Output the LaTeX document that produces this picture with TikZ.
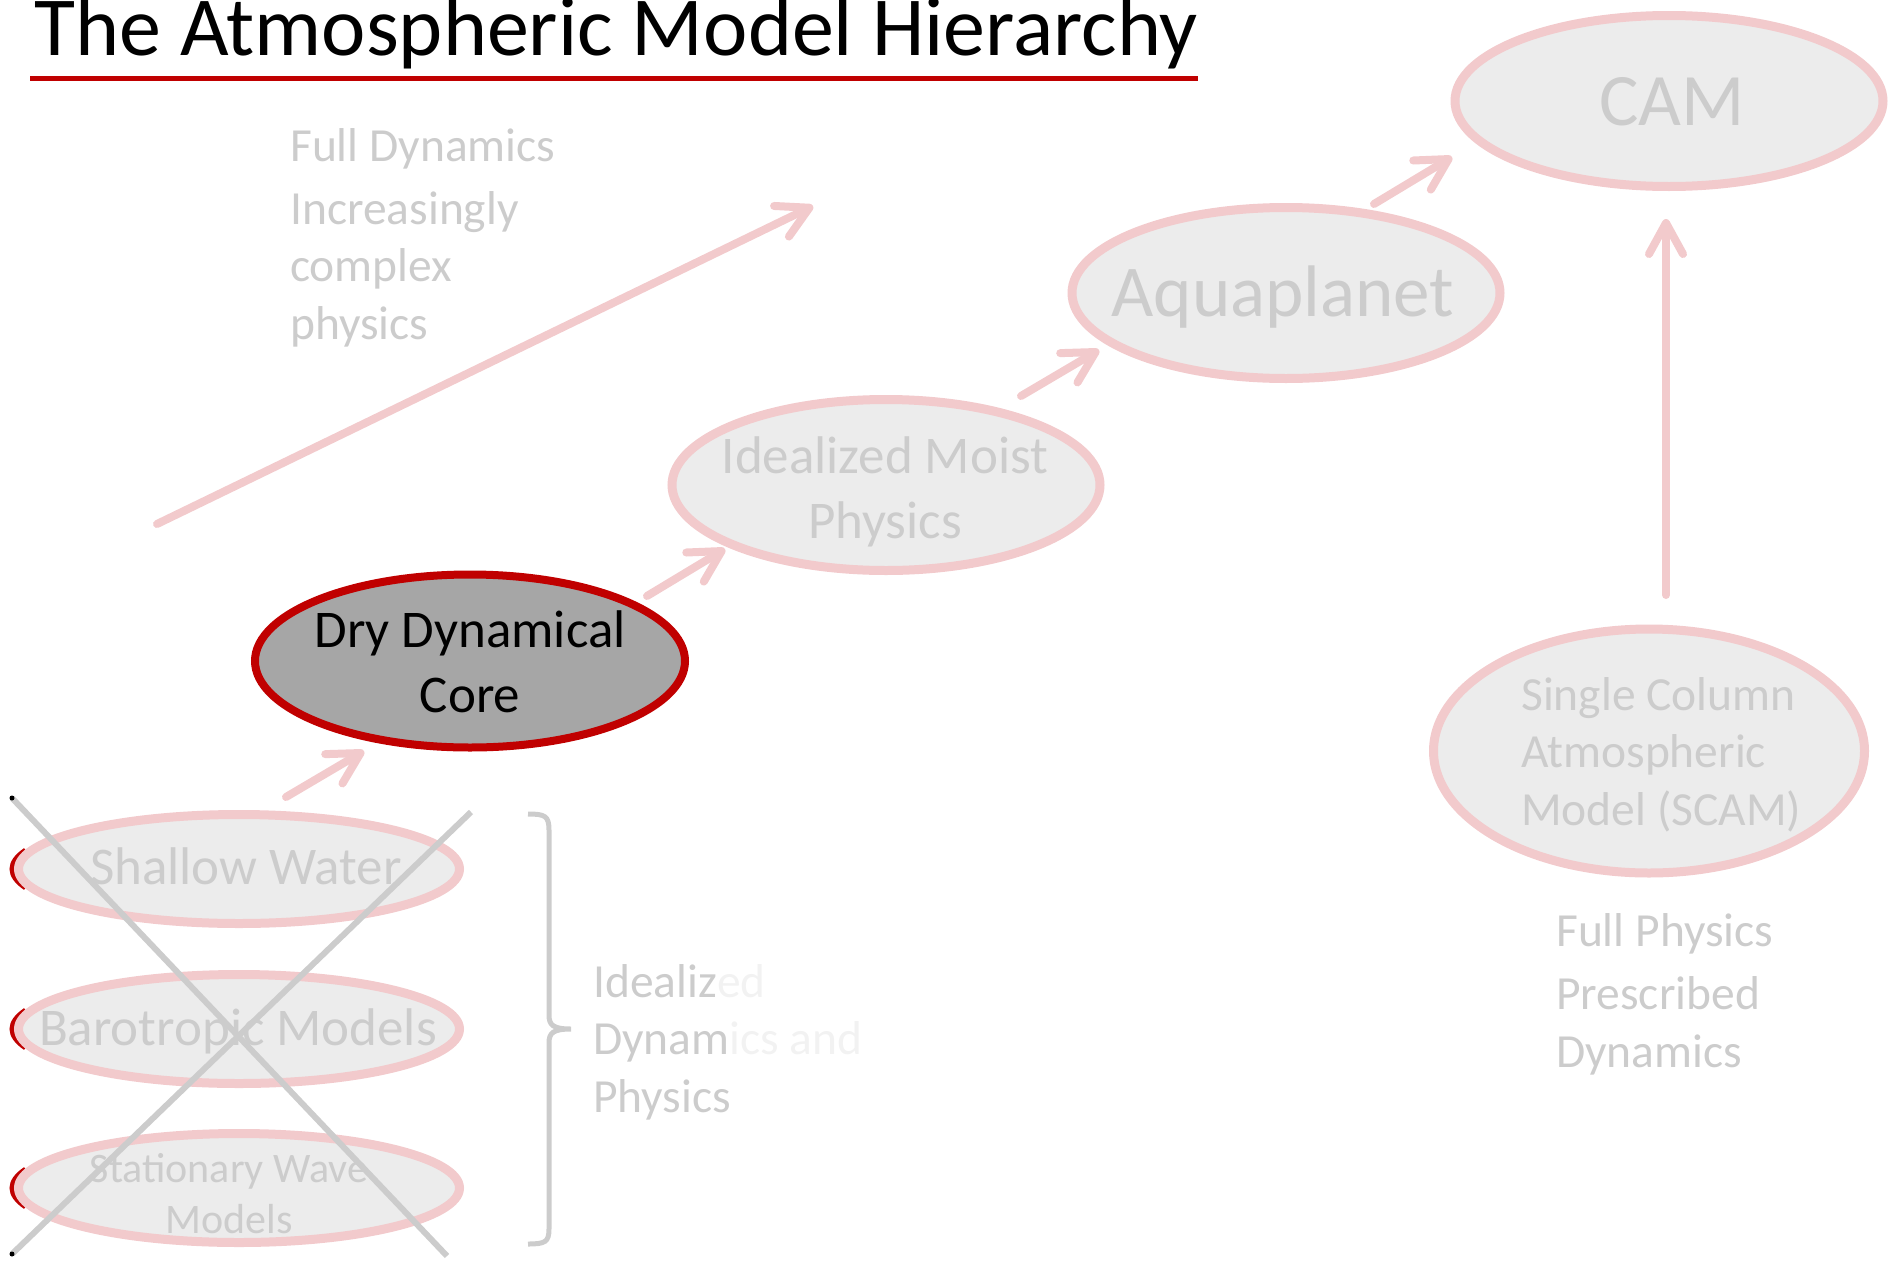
\documentclass[tikz,border=0pt]{standalone}
\usepackage{fontspec}
\setmainfont{Carlito}
\usetikzlibrary{shapes.geometric, arrows.meta}

\definecolor{rose}{RGB}{242,202,204}
\definecolor{paleface}{RGB}{236,236,236}
\definecolor{greytext}{RGB}{204,204,204}
\definecolor{faint}{RGB}{242,242,242}
\definecolor{crossgrey}{RGB}{204,204,204}
\definecolor{deepred}{RGB}{192,0,0}
\definecolor{coregrey}{RGB}{166,166,166}

\tikzset{
  model/.style={ellipse, draw=rose, line width=9pt, fill=paleface, inner sep=0pt,
                minimum width=428pt, minimum height=171pt},
  small model/.style={ellipse, draw=rose, line width=9pt, fill=paleface, inner sep=0pt,
                minimum width=441pt, minimum height=109pt},
  greylabel/.style={text=greytext, inner sep=0pt},
  big/.style={font=\fontsize{74}{90}\selectfont},
  mid/.style={font=\fontsize{53}{64.5}\selectfont},
  note/.style={font=\fontsize{47.5}{57.5}\selectfont},
  link/.style={draw=rose, line width=8pt, line cap=round,
               -{Straight Barb[length=31pt, width=34pt, round]}},
  crossline/.style={draw=crossgrey, line width=6pt},
}

\begin{document}
\begin{tikzpicture}[x=1pt, y=-1pt]
\useasboundingbox (0,0) rectangle (1893,1261);

% title and its underline
\node[anchor=base west, inner sep=0pt, font=\fontsize{84}{100}\selectfont] (title) at (34,55)
  {The Atmospheric Model Hierarchy};
\draw[deepred, line width=5pt] (30,78) -- (1198,78);

% dark red rims peeking out left of the idealized models
\foreach \yy in {869,1029,1188}
  \draw[deepred, line width=5pt] (236,\yy) ++(160:224 and 55) arc[start angle=160, end angle=200, x radius=224, y radius=55];

% idealized models (multi-line labels are placed by the baseline of their last line)
\node[small model] (sw) at (239,869) {};
\node[small model] (bt) at (239,1029) {};
\node[small model] (sv) at (239,1188) {};
\node[greylabel, mid, anchor=base] (swt) at (246,884) {Shallow Water};
\node[greylabel, mid, anchor=base] (btt) at (238,1045) {Barotropic Models};
\node[greylabel, anchor=base, align=center, font=\fontsize{42}{51}\selectfont] (svt) at (229,1233)
  {Stationary Wave\\Models};

% crossing out
\coordinate (xa) at (12,798);
\coordinate (xb) at (447,1256);
\coordinate (xc) at (471,812);
\coordinate (xd) at (12,1254);
\draw[crossline] (xa) -- (xb);
\draw[crossline] (xc) -- (xd);
\fill[black] (xa) circle (2.5);
\fill[black] (xd) circle (2.5);

% brace grouping the idealized models
\coordinate (brtip) at (571,1029);
\draw[crossgrey, line width=5pt]
  (528,814) .. controls (545,814) and (549,816) .. (549,830) -- (549,1015)
  .. controls (549,1025) and (553,1029) .. (brtip)
  .. controls (553,1029) and (549,1033) .. (549,1043) -- (549,1229)
  .. controls (549,1242) and (545,1244) .. (528,1244);
\node[greylabel, note, anchor=base west, align=left] (brtext) at (593,1112)
  {Idealiz\textcolor{faint}{ed}\\Dynam\textcolor{faint}{ics and}\\Physics};

% main hierarchy
\node[model] (cam) at (1669,101) {};
\node[model] (aqua) at (1286,293) {};
\node[model] (moist) at (886,485) {};
\node[model, draw=deepred, fill=coregrey, line width=8pt, minimum width=430pt, minimum height=173pt] (dry) at (470,661) {};
\node[model, minimum width=431pt, minimum height=244pt] (scam) at (1649,751) {};

\node[greylabel, big, anchor=base] (camt) at (1672,125) {CAM};
\node[greylabel, font=\fontsize{73}{88}\selectfont, anchor=base] (aquat) at (1283,316) {Aquaplanet};
\node[greylabel, mid, anchor=base, align=center] (moistt) at (885,538) {Idealized Moist\\Physics};
\node[mid, anchor=base, align=center, inner sep=0pt, text=black] (dryt) at (470,712) {Dry Dynamical\\Core};
\node[greylabel, note, anchor=base west, align=left] (scamt) at (1521,825)
  {Single Column\\Atmospheric\\Model (SCAM)};

% side notes
\node[greylabel, note, anchor=base west, align=left] (fulldyn) at (290,339)
  {Full Dynamics\\[5pt]Increasingly\\complex\\physics};
\node[greylabel, note, anchor=base west, align=left] (fullphys) at (1556,1067)
  {Full Physics\\[6pt]Prescribed\\Dynamics};

% connectors
\coordinate (trendS) at (157,524);
\coordinate (trendE) at (813,206);
\draw[link] (trendS) -- (trendE);
\coordinate (swA) at (286,797);
\coordinate (dryA) at (364,751);
\draw[link] (swA) -- (dryA);
\coordinate (dryB) at (647,596);
\coordinate (moistA) at (725,549);
\draw[link] (dryB) -- (moistA);
\coordinate (moistB) at (1021,396);
\coordinate (aquaA) at (1099,350);
\draw[link] (moistB) -- (aquaA);
\coordinate (aquaB) at (1374,204);
\coordinate (camA) at (1452,157);
\draw[link] (aquaB) -- (camA);
\coordinate (scamB) at (1666,595);
\coordinate (camB) at (1666,219);
\draw[link] (scamB) -- (camB);
\end{tikzpicture}
\end{document}
